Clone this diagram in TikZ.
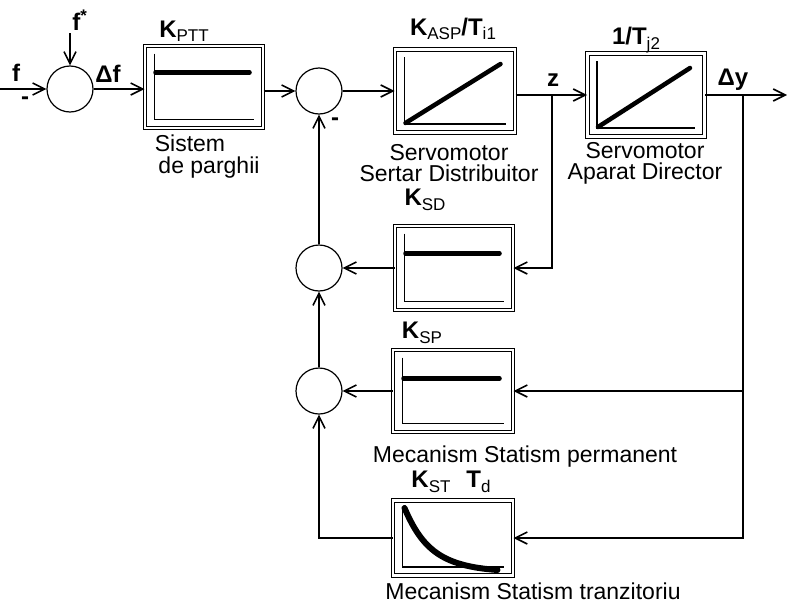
\documentclass[tikz,border=0pt]{standalone}
\usepackage{fontspec}
\setmainfont{Liberation Sans}
\usetikzlibrary{arrows.meta, calc}

\newcommand{\lowsub}[1]{\raisebox{-0.35ex}{\fontsize{17}{17}\selectfont\mdseries #1}}

\begin{document}
\begin{tikzpicture}[x=1pt, y=-1pt, >={Straight Barb[length=12pt,width=12pt]},
  line width=1.6pt,
  sumnode/.style={draw, circle, minimum size=46pt, inner sep=0pt, line width=1.2pt},
  blockbox/.style={draw, double, double distance=2.5pt, line width=1pt, inner sep=0pt,
    minimum width=118pt, minimum height=82pt},
  gain/.style={font=\fontsize{24}{26}\selectfont\bfseries},
  blocktext/.style={font=\fontsize{23}{21}\selectfont, align=center},
  plotline/.style={line width=4.5pt, line cap=round}]
  \useasboundingbox (0,0) rectangle (787,605);

  % Summing points
  \node[sumnode] (s1) at (70,89) {};
  \node[sumnode] (s2) at (319,91) {};
  \node[sumnode] (s3) at (319,268) {};
  \node[sumnode] (s4) at (319,391) {};

  % Blocks
  \node[blockbox] (ptt) at (204,87) {};
  \node[blockbox, minimum width=120pt, minimum height=83pt] (asp) at (455,91) {};
  \node[blockbox, minimum width=117pt, minimum height=83pt] (tj2) at (646,95) {};
  \node[blockbox, minimum height=84pt] (ksd) at (454,268) {};
  \node[blockbox, minimum width=120pt] (ksp) at (453,391) {};
  \node[blockbox, minimum width=120pt, minimum height=75pt] (kst) at (453,538) {};

  % Axes inside the blocks
  \foreach \b in {ptt,asp,tj2,ksd,ksp,kst}
    \draw[line width=1.2pt] ($(\b.north west)+(10,8)$) |- ($(\b.south east)+(-10,-9)$);

  % Responses
  \draw[plotline] ($(ptt.north west)+(11,27)$) -- ($(ptt.north east)+(-14,27)$);
  \draw[plotline] ($(ksd.north west)+(11,28)$) -- ($(ksd.north east)+(-14,28)$);
  \draw[plotline] ($(ksp.north west)+(11,29)$) -- ($(ksp.north east)+(-14,29)$);
  \draw[plotline] ($(asp.south west)+(11,-10)$) -- ($(asp.north east)+(-15,15)$);
  \draw[plotline] ($(tj2.south west)+(11,-10)$) -- ($(tj2.north east)+(-15,15)$);
  \draw[plotline, line width=6pt] ($(kst.north west)+(12,8)$)
    .. controls ($(kst.north west)+(30,50)$) and ($(kst.north west)+(50,66)$)
    .. ($(kst.south east)+(-16,-6)$);

  % Gains
  \node[gain] (lptt) at (184,31) {K\lowsub{PTT}};
  \node[gain] (lasp) at (453,29) {K\lowsub{ASP}/T\lowsub{i1}};
  \node[gain] (ltj2) at (636,40) {1/T\lowsub{j2}};
  \node[gain] (lksd) at (425,200) {K\lowsub{SD}};
  \node[gain] (lksp) at (422,333) {K\lowsub{SP}};
  \node[gain] (lkst) at (451,482) {K\lowsub{ST}\hspace{16pt}T\lowsub{d}};

  % Block names
  \node[blocktext] (tsis) at (190,143) {Sistem};
  \node[blocktext] (tpar) at (209,168) {de parghii};
  \node[blocktext] (tasp) at (449,163) {Servomotor\\Sertar Distribuitor};
  \node[blocktext] (ttj2) at (645,163) {Servomotor\\Aparat Director};
  \node[blocktext] (tksp) at (525,457) {Mecanism Statism permanent};
  \node[blocktext] (tkst) at (533,591) {Mecanism Statism tranzitoriu};

  % Signals
  \node[gain] (lf) at (16,73) {f};
  \node[gain] (lm1) at (25,101) {-};
  \node[gain] (lfs) at (80,20) {f\textsuperscript{*}};
  \node[gain] (ldf) at (108,74) {Δf};
  \node[gain] (lm2) at (335,122) {-};
  \node[gain] (lz) at (553,80) {z};
  \node[gain] (ldy) at (733,80) {Δy};

  \coordinate (fin) at (0,89);
  \coordinate (fst) at (70,33);
  \coordinate (zb) at (552,95);
  \coordinate (yb) at (743,95);
  \coordinate (yout) at (787,95);

  % Forward path
  \draw[->] (fin) -- (s1);
  \draw[->] (fst) -- (s1);
  \draw[->] (s1) -- (s1 -| ptt.west);
  \draw[->] (ptt.east |- s2) -- (s2);
  \draw[->] (s2) -- (asp);
  \draw[->] (asp.east |- tj2) -- (tj2.west);
  \draw[->] (tj2.east) -- (yout);

  % Feedback paths
  \draw[->] (zb) |- (ksd.east);
  \draw[->] (yb) |- (ksp.east);
  \draw[->] (yb) |- (kst.east);
  \draw[->] (ksd) -- (s3);
  \draw[->] (ksp) -- (s4);
  \draw[->] (kst.west) -| (s4.south);
  \draw[->] (s4) -- (s3);
  \draw[->] (s3) -- (s2);
\end{tikzpicture}
\end{document}
